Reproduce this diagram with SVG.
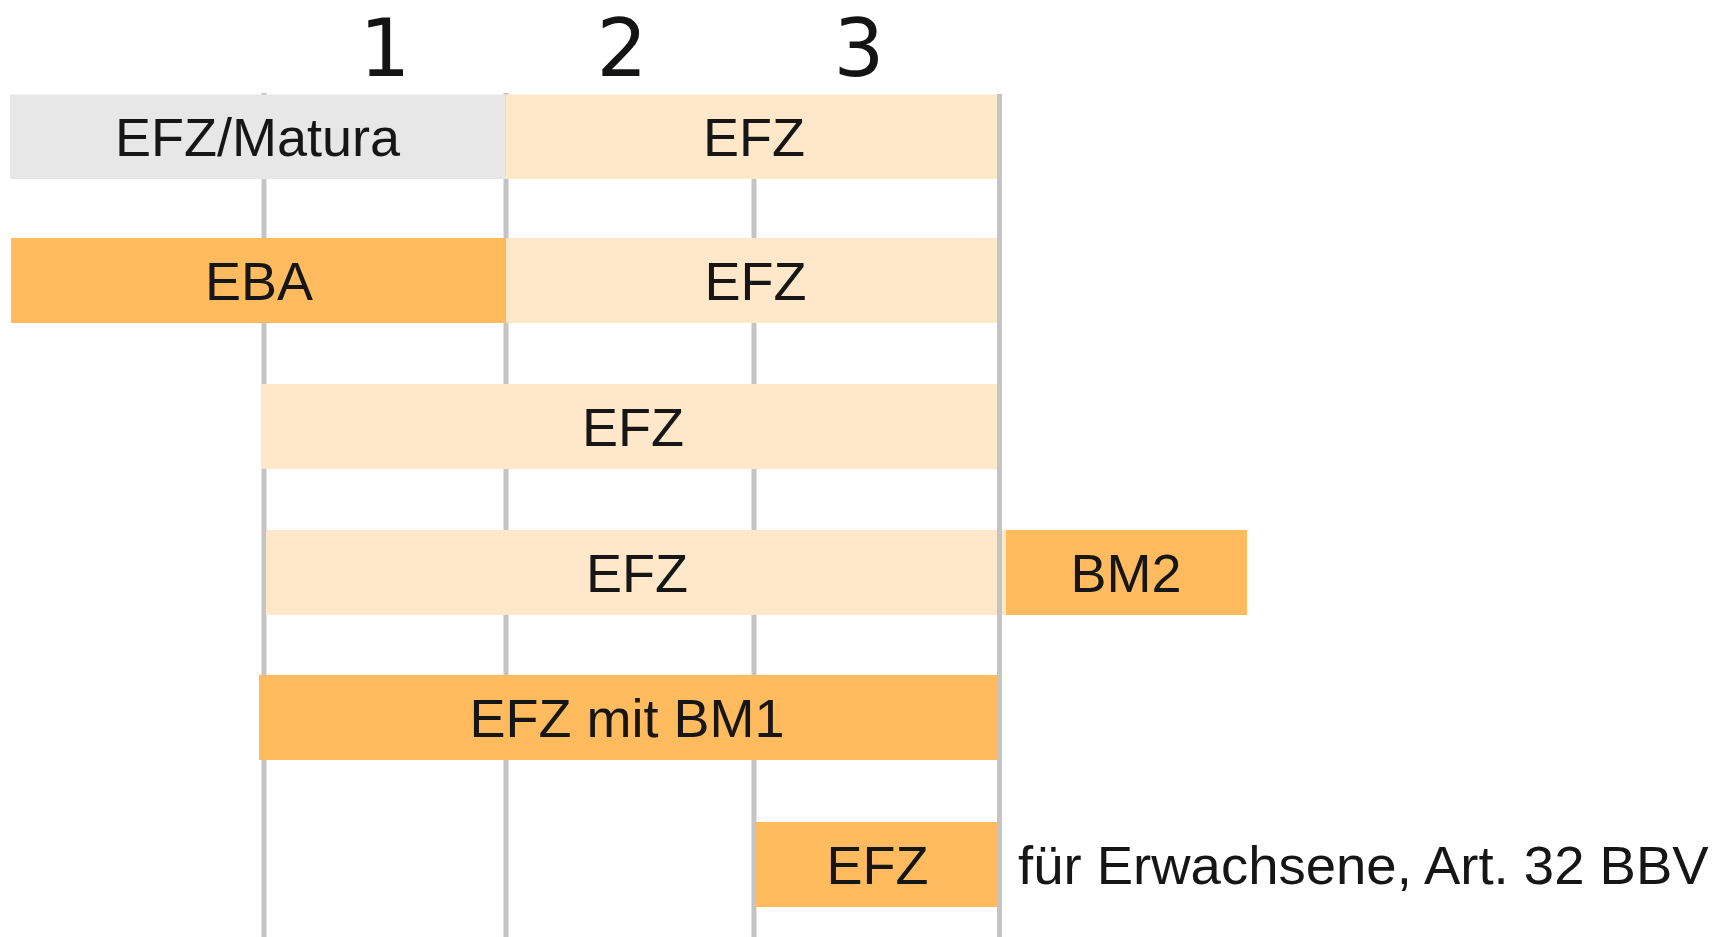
<svg xmlns="http://www.w3.org/2000/svg" width="1716" height="937" viewBox="0 0 1716 937">
<style>
.grid{stroke:#c4c4c4;stroke-width:5;fill:none}
.gray{fill:#e7e7e7}
.light{fill:#fee8c9}
.orange{fill:#ffbb5e}
.lbl{font-family:"Liberation Sans",Arial,sans-serif;font-size:54px;fill:#161616;text-anchor:middle}
.note{font-family:"Liberation Sans",Arial,sans-serif;font-size:54.5px;fill:#161616}
.num{font-family:"DejaVu Sans",sans-serif;font-size:80px;fill:#141414;text-anchor:middle}
</style>
<rect width="1716" height="937" fill="#ffffff"/>
<g id="grid">
<line class="grid" x1="264" y1="93" x2="264" y2="937"/>
<line class="grid" x1="506" y1="93" x2="506" y2="937"/>
<line class="grid" x1="754" y1="178" x2="754" y2="937"/>
</g>
<g id="years">
<text class="num" x="385" y="76">1</text>
<text class="num" x="622" y="76">2</text>
<text class="num" x="859" y="76">3</text>
</g>
<g id="row1-matura">
<rect class="gray" x="10" y="94.5" width="495.5" height="84.5"/>
<text class="lbl" x="257.5" y="156">EFZ/Matura</text>
</g>
<g id="row1-efz">
<rect class="light" x="505.5" y="94.5" width="492" height="84.5"/>
<text class="lbl" x="754" y="156">EFZ</text>
</g>
<g id="row2-eba">
<rect class="orange" x="11" y="238" width="495" height="85"/>
<text class="lbl" x="259" y="300">EBA</text>
</g>
<g id="row2-efz">
<rect class="light" x="506" y="238" width="494" height="85"/>
<text class="lbl" x="755.5" y="300">EFZ</text>
</g>
<g id="row3-efz">
<rect class="light" x="261" y="384" width="737" height="85"/>
<text class="lbl" x="633" y="446">EFZ</text>
</g>
<g id="row4-efz">
<rect class="light" x="266" y="530" width="740" height="85"/>
<text class="lbl" x="637" y="592">EFZ</text>
</g>
<g id="row4-bm2">
<rect class="orange" x="1006" y="530" width="241" height="85"/>
<text class="lbl" x="1126" y="592">BM2</text>
</g>
<g id="row5-efz-bm1">
<rect class="orange" x="259" y="675" width="739" height="85"/>
<text class="lbl" x="627" y="737">EFZ mit BM1</text>
</g>
<g id="row6-efz">
<rect class="orange" x="755" y="822" width="243" height="85"/>
<text class="lbl" x="877.5" y="884">EFZ</text>
<text class="note" x="1018" y="884">für Erwachsene, Art. 32 BBV</text>
</g>
<g id="connectors">
<line class="grid" x1="999.5" y1="94" x2="999.5" y2="937"/>
</g>
</svg>
